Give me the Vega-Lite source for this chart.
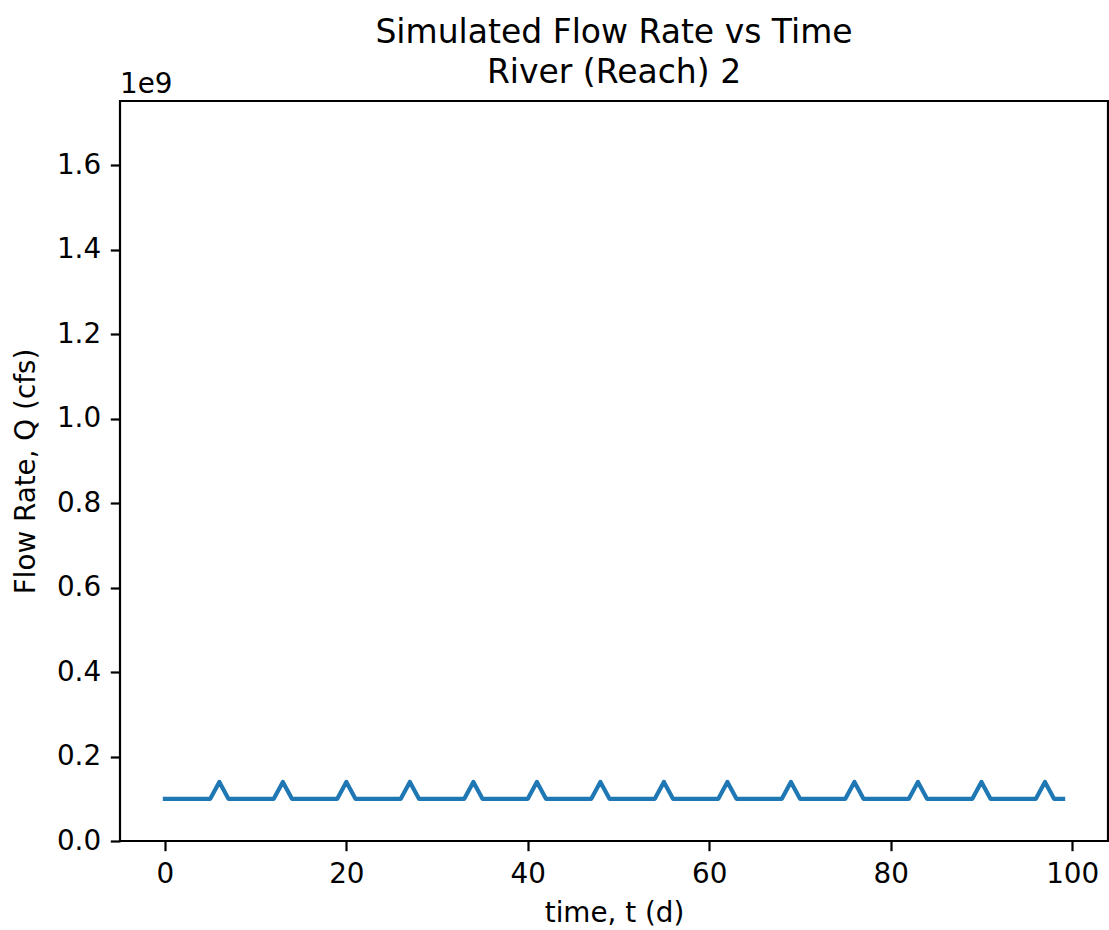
{
  "$schema": "https://vega.github.io/schema/vega-lite/v6.json",
  "width": 988,
  "height": 740,
  "autosize": {"type": "none"},
  "padding": {"left": 120, "top": 101, "right": 1, "bottom": 89},
  "background": "white",
  "title": {
    "text": ["Simulated Flow Rate vs Time", "River (Reach) 2"],
    "font": "DejaVu Sans",
    "fontSize": 33,
    "fontWeight": "normal",
    "lineHeight": 40,
    "color": "#000000",
    "anchor": "middle",
    "frame": "group",
    "baseline": "alphabetic",
    "offset": -45
  },
  "config": {
    "view": {"stroke": "#000000", "strokeWidth": 2.2},
    "axis": {
      "labelFont": "DejaVu Sans",
      "titleFont": "DejaVu Sans",
      "labelFontSize": 27.8,
      "titleFontSize": 27.8,
      "titleFontWeight": "normal",
      "labelColor": "#000000",
      "titleColor": "#000000",
      "tickColor": "#000000",
      "tickWidth": 2.2,
      "tickSize": 9.7,
      "labelPadding": 9.7,
      "domain": false,
      "grid": false
    }
  },
  "layer": [
    {
      "data": {
        "values": [
          {"t": 0, "q": 100000000}, {"t": 1, "q": 100000000}, {"t": 2, "q": 100000000}, {"t": 3, "q": 100000000}, {"t": 4, "q": 100000000},
          {"t": 5, "q": 100000000}, {"t": 6, "q": 140000000}, {"t": 7, "q": 100000000}, {"t": 8, "q": 100000000}, {"t": 9, "q": 100000000},
          {"t": 10, "q": 100000000}, {"t": 11, "q": 100000000}, {"t": 12, "q": 100000000}, {"t": 13, "q": 140000000}, {"t": 14, "q": 100000000},
          {"t": 15, "q": 100000000}, {"t": 16, "q": 100000000}, {"t": 17, "q": 100000000}, {"t": 18, "q": 100000000}, {"t": 19, "q": 100000000},
          {"t": 20, "q": 140000000}, {"t": 21, "q": 100000000}, {"t": 22, "q": 100000000}, {"t": 23, "q": 100000000}, {"t": 24, "q": 100000000},
          {"t": 25, "q": 100000000}, {"t": 26, "q": 100000000}, {"t": 27, "q": 140000000}, {"t": 28, "q": 100000000}, {"t": 29, "q": 100000000},
          {"t": 30, "q": 100000000}, {"t": 31, "q": 100000000}, {"t": 32, "q": 100000000}, {"t": 33, "q": 100000000}, {"t": 34, "q": 140000000},
          {"t": 35, "q": 100000000}, {"t": 36, "q": 100000000}, {"t": 37, "q": 100000000}, {"t": 38, "q": 100000000}, {"t": 39, "q": 100000000},
          {"t": 40, "q": 100000000}, {"t": 41, "q": 140000000}, {"t": 42, "q": 100000000}, {"t": 43, "q": 100000000}, {"t": 44, "q": 100000000},
          {"t": 45, "q": 100000000}, {"t": 46, "q": 100000000}, {"t": 47, "q": 100000000}, {"t": 48, "q": 140000000}, {"t": 49, "q": 100000000},
          {"t": 50, "q": 100000000}, {"t": 51, "q": 100000000}, {"t": 52, "q": 100000000}, {"t": 53, "q": 100000000}, {"t": 54, "q": 100000000},
          {"t": 55, "q": 140000000}, {"t": 56, "q": 100000000}, {"t": 57, "q": 100000000}, {"t": 58, "q": 100000000}, {"t": 59, "q": 100000000},
          {"t": 60, "q": 100000000}, {"t": 61, "q": 100000000}, {"t": 62, "q": 140000000}, {"t": 63, "q": 100000000}, {"t": 64, "q": 100000000},
          {"t": 65, "q": 100000000}, {"t": 66, "q": 100000000}, {"t": 67, "q": 100000000}, {"t": 68, "q": 100000000}, {"t": 69, "q": 140000000},
          {"t": 70, "q": 100000000}, {"t": 71, "q": 100000000}, {"t": 72, "q": 100000000}, {"t": 73, "q": 100000000}, {"t": 74, "q": 100000000},
          {"t": 75, "q": 100000000}, {"t": 76, "q": 140000000}, {"t": 77, "q": 100000000}, {"t": 78, "q": 100000000}, {"t": 79, "q": 100000000},
          {"t": 80, "q": 100000000}, {"t": 81, "q": 100000000}, {"t": 82, "q": 100000000}, {"t": 83, "q": 140000000}, {"t": 84, "q": 100000000},
          {"t": 85, "q": 100000000}, {"t": 86, "q": 100000000}, {"t": 87, "q": 100000000}, {"t": 88, "q": 100000000}, {"t": 89, "q": 100000000},
          {"t": 90, "q": 140000000}, {"t": 91, "q": 100000000}, {"t": 92, "q": 100000000}, {"t": 93, "q": 100000000}, {"t": 94, "q": 100000000},
          {"t": 95, "q": 100000000}, {"t": 96, "q": 100000000}, {"t": 97, "q": 140000000}, {"t": 98, "q": 100000000}, {"t": 99, "q": 100000000}
        ]
      },
      "mark": {"type": "line", "color": "#1f77b4", "strokeWidth": 4.2, "strokeJoin": "round", "strokeCap": "square"},
      "encoding": {
        "x": {
          "field": "t",
          "type": "quantitative",
          "scale": {"domain": [-4.95, 103.95], "nice": false, "zero": false},
          "axis": {
            "title": "time, t (d)",
            "values": [0, 20, 40, 60, 80, 100],
            "format": "d",
            "titlePadding": 11
          }
        },
        "y": {
          "field": "q",
          "type": "quantitative",
          "scale": {"domain": [0, 1752500000], "nice": false, "zero": true},
          "axis": {
            "title": "Flow Rate, Q (cfs)",
            "values": [0, 200000000, 400000000, 600000000, 800000000, 1000000000, 1200000000, 1400000000, 1600000000],
            "labelExpr": "format(datum.value / 1e9, '.1f')",
            "titlePadding": 16
          }
        }
      }
    },
    {
      "data": {"values": [{"label": "1e9"}]},
      "mark": {"type": "text", "font": "DejaVu Sans", "fontSize": 27.8, "align": "left", "baseline": "alphabetic", "dy": -8, "color": "#000000"},
      "encoding": {
        "text": {"field": "label"},
        "x": {"datum": -4.95, "type": "quantitative"},
        "y": {"datum": 1752500000, "type": "quantitative"}
      }
    }
  ]
}
